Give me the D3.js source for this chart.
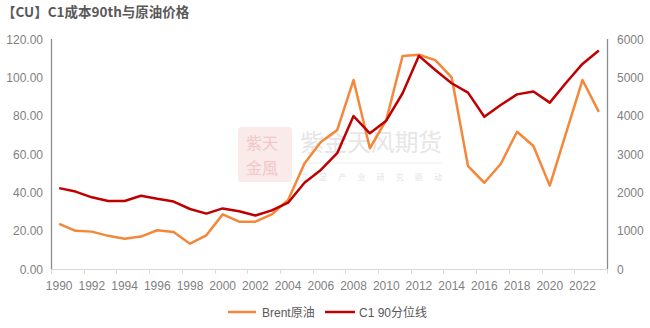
<!DOCTYPE html>
<html><head><meta charset="utf-8">
<script src="https://cdn.jsdelivr.net/npm/d3@7"></script>
<style>body{margin:0;background:#fff}svg{display:block}</style>
</head><body>
<script>
const years = d3.range(1990, 2024).map(String);
const brent = [23.5,19.9,19.5,17.3,15.8,16.9,20.2,19.3,13.2,17.6,28.5,24.7,24.7,28.5,36.0,55.0,66.2,72.5,98.6,63.0,77.7,111.1,111.8,109.0,100.0,53.7,45.0,54.8,71.6,64.2,43.5,71.0,98.6,82.0];
const c1 = [2110,2020,1870,1775,1775,1910,1830,1760,1565,1445,1580,1505,1395,1530,1730,2250,2585,3020,3990,3540,3870,4585,5560,5190,4845,4600,3970,4280,4555,4630,4340,4860,5350,5700];
const leftTicks = [0,20,40,60,80,100,120];
const rightTicks = [0,1000,2000,3000,4000,5000,6000];
const seriesNames = ["Brent原油","C1 90分位线"];

const W=650,H=328;
const svg=d3.select("body").append("svg").attr("width",W).attr("height",H);
const m={l:51,r:607,t:39,b:269};
const x=d3.scaleBand().domain(years).range([m.l,m.r]);
const yL=d3.scaleLinear().domain([0,120]).range([m.b,m.t]);
const yR=d3.scaleLinear().domain([0,6000]).range([m.b,m.t]);
const font="'Liberation Sans', Arial, 'Noto Sans CJK SC', sans-serif";

// title
svg.append("text").attr("x",2).attr("y",17).attr("font-family","'Noto Sans CJK SC', sans-serif")
  .attr("font-weight","bold").attr("font-size",13.5).attr("fill","#595959").text("【CU】C1成本90th与原油价格");

// watermark
const wm=svg.append("g");
wm.append("rect").attr("x",238).attr("y",127).attr("width",54).attr("height",55).attr("rx",4).attr("fill","#faeaea");
wm.append("text").attr("x",246).attr("y",149).attr("font-family","'Noto Sans CJK SC'").attr("font-size",16).attr("fill","#f0c8c8").text("紫天");
wm.append("text").attr("x",246).attr("y",174).attr("font-family","'Noto Sans CJK SC'").attr("font-size",16).attr("fill","#f0c8c8").text("金風");
wm.append("text").attr("x",300).attr("y",151).attr("font-family","'Noto Sans CJK SC'").attr("font-size",24).attr("fill","#e6e6e6").attr("textLength",142).text("紫金天风期货");
wm.append("line").attr("x1",300).attr("x2",442).attr("y1",163).attr("y2",163).attr("stroke","#eeeeee");
wm.append("text").attr("x",300).attr("y",180).attr("font-family","'Noto Sans CJK SC'").attr("font-size",8).attr("fill","#e3e3e3").attr("textLength",142).text("立 足 产 业   研 究 驱 动");

// axes
const ax=svg.append("g").attr("font-family",font).attr("font-size",12).attr("fill","#7f7f7f");
leftTicks.forEach(v=>ax.append("text").attr("x",43).attr("y",yL(v)+4.5).attr("text-anchor","end").text(v.toFixed(2)));
rightTicks.forEach(v=>ax.append("text").attr("x",617).attr("y",yR(v)+4.5).text(v));
years.forEach((yr,i)=>{ if(i%2===0) ax.append("text").attr("x",x(yr)+x.bandwidth()/2).attr("y",290).attr("text-anchor","middle").text(yr); });
// bottom axis + ticks
svg.append("line").attr("x1",m.l).attr("x2",m.r).attr("y1",m.b+0.5).attr("y2",m.b+0.5).attr("stroke","#d9d9d9");
years.forEach((yr,i)=>{ if(i%2===0) svg.append("line").attr("x1",Math.round(x(yr))+0.5).attr("x2",Math.round(x(yr))+0.5).attr("y1",m.b).attr("y2",m.b+5).attr("stroke","#d9d9d9"); });
svg.append("line").attr("x1",m.r+0.5).attr("x2",m.r+0.5).attr("y1",m.b).attr("y2",m.b+5).attr("stroke","#d9d9d9");
svg.append("line").attr("x1",m.l+0.5).attr("x2",m.l+0.5).attr("y1",m.t).attr("y2",m.b).attr("stroke","#8c8c8c").attr("stroke-width",1.3);
svg.append("line").attr("x1",m.r+0.5).attr("x2",m.r+0.5).attr("y1",m.t).attr("y2",m.b).attr("stroke","#8c8c8c").attr("stroke-width",1.3);

const cx=d=>x(d)+x.bandwidth()/2;
const lineL=d3.line().x((d,i)=>cx(years[i])).y(d=>yL(d));
const lineR=d3.line().x((d,i)=>cx(years[i])).y(d=>yR(d));
svg.append("path").attr("d",lineL(brent)).attr("fill","none").attr("stroke","#F4873A").attr("stroke-width",2.5).attr("stroke-linejoin","round");
svg.append("path").attr("d",lineR(c1)).attr("fill","none").attr("stroke","#C00000").attr("stroke-width",2.5).attr("stroke-linejoin","round");

// legend
const lg=svg.append("g").attr("font-family",font).attr("font-size",12).attr("fill","#595959");
lg.append("line").attr("x1",228).attr("x2",256).attr("y1",312).attr("y2",312).attr("stroke","#F4873A").attr("stroke-width",2.5);
lg.append("text").attr("x",262).attr("y",316.5).text(seriesNames[0]);
lg.append("line").attr("x1",325).attr("x2",355).attr("y1",312).attr("y2",312).attr("stroke","#C00000").attr("stroke-width",2.5);
lg.append("text").attr("x",359).attr("y",316.5).text(seriesNames[1]);
</script>
</body></html>
